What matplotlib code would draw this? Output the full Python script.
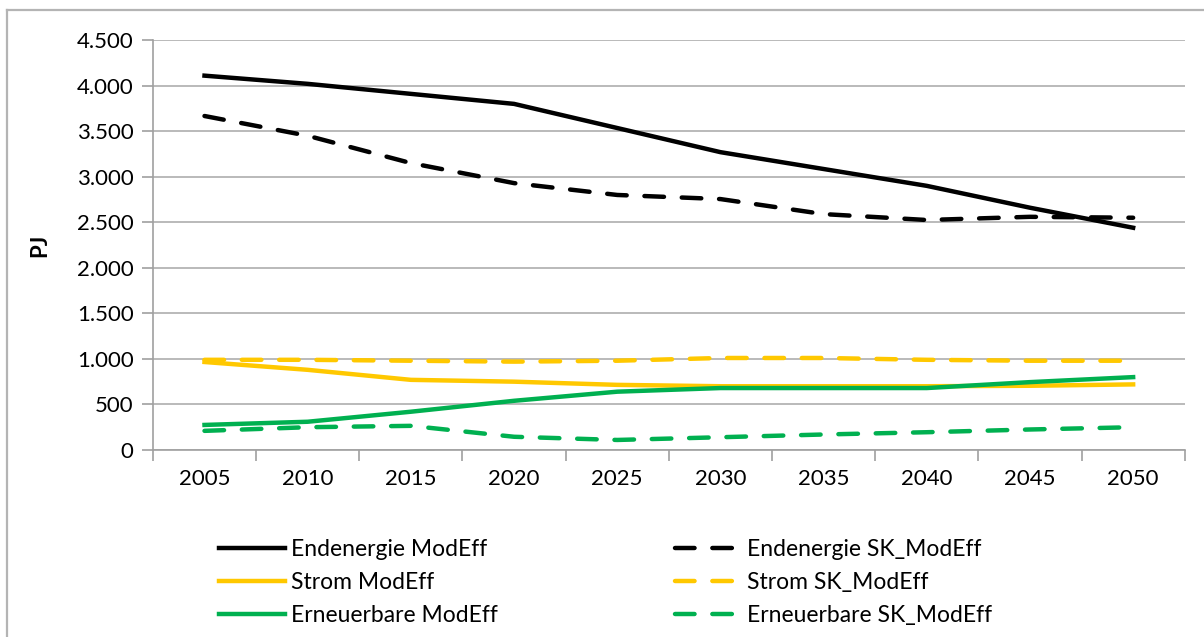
import matplotlib
matplotlib.use('Agg')
import matplotlib.pyplot as plt
from matplotlib.ticker import FuncFormatter
from matplotlib.lines import Line2D

plt.rcParams['font.family'] = ['Lato', 'DejaVu Sans']

# Jahre und Werte in PJ
years = ['2005', '2010', '2015', '2020', '2025', '2030', '2035', '2040', '2045', '2050']

endenergie_modeff = [4110, 4020, 3910, 3800, 3535, 3270, 3085, 2900, 2660, 2440]
strom_modeff = [966, 880, 770, 750, 715, 700, 700, 700, 705, 720]
erneuerbare_modeff = [275, 310, 420, 540, 640, 680, 680, 680, 745, 800]

endenergie_sk = [3667, 3450, 3150, 2930, 2800, 2755, 2590, 2525, 2560, 2550]
strom_sk = [990, 990, 980, 970, 980, 1010, 1010, 990, 980, 980]
erneuerbare_sk = [210, 250, 265, 145, 110, 140, 170, 195, 225, 250]

black = '#000000'
yellow = '#FFC800'
green = '#00B050'

fig = plt.figure(figsize=(12.04, 6.37), dpi=100)
ax = fig.add_axes([0.127, 0.2936, 0.857, 0.6434])

# Rahmen des Diagrammbereichs (nur links und oben sichtbar, Rest abgeschnitten)
bx, by = 7 / 1204, 1 - 10 / 637
fig.add_artist(Line2D([bx, bx], [0, by], color='#b4b4b4', lw=1.6))
fig.add_artist(Line2D([bx, 1], [by, by], color='#b4b4b4', lw=1.6))

x = range(len(years))
lw = 3.2
dash = (4.4, 4.0)

ax.plot(x, endenergie_modeff, color=black, lw=lw, label='Endenergie ModEff')
ax.plot(x, strom_modeff, color=yellow, lw=lw, label='Strom ModEff')
ax.plot(x, erneuerbare_modeff, color=green, lw=lw, label='Erneuerbare ModEff')
ax.plot(x, endenergie_sk, color=black, lw=lw, dashes=dash, dash_capstyle='round', label='Endenergie SK_ModEff')
ax.plot(x, strom_sk, color=yellow, lw=lw, dashes=dash, dash_capstyle='round', label='Strom SK_ModEff')
ax.plot(x, erneuerbare_sk, color=green, lw=lw, dashes=dash, dash_capstyle='round', label='Erneuerbare SK_ModEff')

ax.set_xlim(-0.5, len(years) - 0.5)
ax.set_ylim(0, 4500)
ax.set_yticks(range(0, 4501, 500))
ax.yaxis.set_major_formatter(FuncFormatter(lambda v, p: f'{int(v):,}'.replace(',', '.')))
ax.set_xticks(list(x))
ax.set_xticklabels(years)
ax.set_xticks([i - 0.5 for i in range(len(years) + 1)], minor=True)
ax.tick_params(axis='x', which='major', length=0, pad=14, labelsize=16)
ax.tick_params(axis='x', which='minor', length=8, color='#a0a0a0', width=1.2)
ax.tick_params(axis='y', length=8, color='#a0a0a0', width=1.2, labelsize=16, pad=6)
ax.grid(axis='y', color='#b4b4b4', lw=1.3)
ax.set_axisbelow(True)
for s in ['top', 'right']:
    ax.spines[s].set_visible(False)
ax.spines['left'].set_color('#a0a0a0')
ax.spines['bottom'].set_color('#a0a0a0')
ax.spines['left'].set_linewidth(1.2)
ax.spines['bottom'].set_linewidth(1.2)
ax.set_ylabel('PJ', fontsize=16, fontweight='bold', labelpad=19)

fig.legend(loc='lower left', bbox_to_anchor=(0.165, -0.015), ncol=2, frameon=False,
           fontsize=16.5, handlelength=2.85, handletextpad=0.28, columnspacing=7.75,
           labelspacing=0.53)

fig.savefig('out.png', dpi=100)
